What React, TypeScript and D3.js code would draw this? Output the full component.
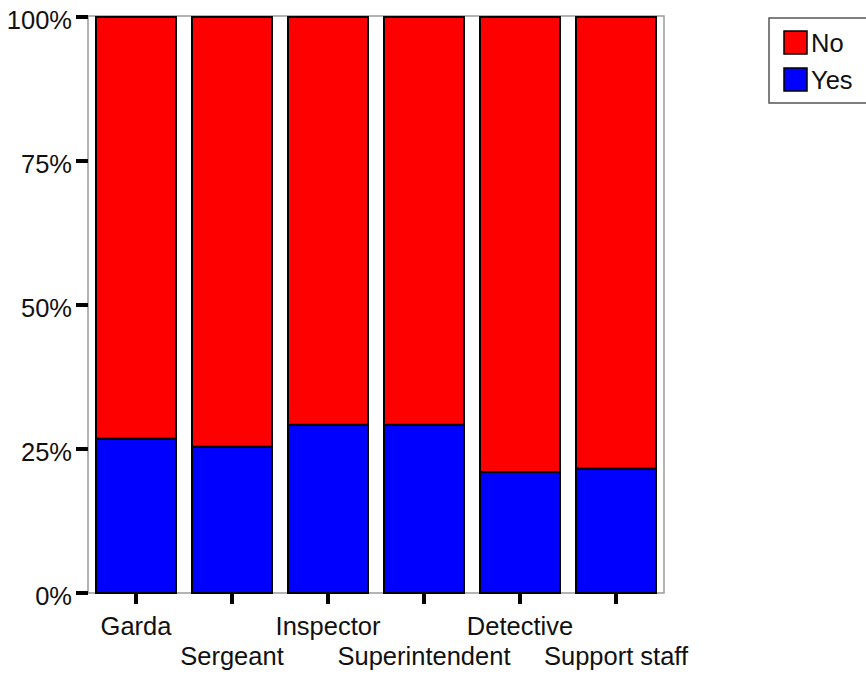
import React, { useEffect, useRef } from 'react';
import * as d3 from 'd3';

const categories = ['Garda', 'Sergeant', 'Inspector', 'Superintendent', 'Detective', 'Support staff'];
const yesValues = [26.8, 25.4, 29.2, 29.2, 21.0, 21.6];
const noValues = [73.2, 74.6, 70.8, 70.8, 79.0, 78.4];
const seriesNames = ['No', 'Yes'];
const seriesColors = ['#ff0000', '#0000ff'];
const yTicks = [0, 25, 50, 75, 100];

const App: React.FC = () => {
  const svgRef = useRef<SVGSVGElement>(null);

  useEffect(() => {
    if (!svgRef.current) return;
    const svg = d3.select(svgRef.current);
    svg.selectAll('*').remove();

    const left = 88, right = 664, top = 17, bottom = 593;
    const font = 'Liberation Sans, Arial, sans-serif';
    const fs = '25.5px';

    const x = d3.scaleBand<string>()
      .domain(categories)
      .range([left, right])
      .paddingInner(1 / 6)
      .paddingOuter(1 / 12);

    const y = d3.scaleLinear().domain([0, 100]).range([bottom, top]);

    // plot frame
    svg.append('rect')
      .attr('x', left).attr('y', top - 1)
      .attr('width', right - left).attr('height', bottom - top + 1)
      .attr('fill', 'none').attr('stroke', '#9a9a9a').attr('stroke-width', 1.5);

    const rows = categories.map((c, i) => ({ c, yes: yesValues[i], no: noValues[i] }));

    // Yes (bottom)
    svg.append('g').selectAll('rect').data(rows).join('rect')
      .attr('x', d => x(d.c)!)
      .attr('y', d => y(d.yes))
      .attr('width', x.bandwidth())
      .attr('height', d => y(0) - y(d.yes))
      .attr('fill', seriesColors[1])
      .attr('stroke', '#000').attr('stroke-width', 2);

    // No (top)
    svg.append('g').selectAll('rect').data(rows).join('rect')
      .attr('x', d => x(d.c)!)
      .attr('y', d => y(d.yes + d.no))
      .attr('width', x.bandwidth())
      .attr('height', d => y(d.yes) - y(d.yes + d.no))
      .attr('fill', seriesColors[0])
      .attr('stroke', '#000').attr('stroke-width', 2);

    // y axis ticks
    const ya = svg.append('g');
    yTicks.forEach(t => {
      ya.append('rect')
        .attr('x', 76).attr('y', y(t) - 2)
        .attr('width', 12).attr('height', 4)
        .attr('fill', '#000');
      ya.append('text')
        .attr('x', 72).attr('y', y(t) + 12)
        .attr('text-anchor', 'end')
        .style('font-family', font).style('font-size', fs)
        .attr('fill', '#111')
        .text(`${t}%`);
    });

    // x axis ticks + staggered labels
    const xa = svg.append('g');
    categories.forEach((c, i) => {
      const cx = x(c)! + x.bandwidth() / 2;
      xa.append('rect')
        .attr('x', cx - 2).attr('y', bottom)
        .attr('width', 4).attr('height', 11)
        .attr('fill', '#000');
      xa.append('text')
        .attr('x', cx).attr('y', i % 2 === 0 ? 635 : 665)
        .attr('text-anchor', 'middle')
        .style('font-family', font).style('font-size', fs)
        .attr('fill', '#111')
        .text(c);
    });

    // legend
    const lg = svg.append('g');
    lg.append('rect')
      .attr('x', 769).attr('y', 18)
      .attr('width', 120).attr('height', 85)
      .attr('fill', '#fff').attr('stroke', '#555').attr('stroke-width', 1.5);
    seriesNames.forEach((s, i) => {
      const yy = 31 + i * 37;
      lg.append('rect')
        .attr('x', 784).attr('y', yy)
        .attr('width', 23).attr('height', 23)
        .attr('fill', seriesColors[i])
        .attr('stroke', '#000').attr('stroke-width', 1.5);
      lg.append('text')
        .attr('x', 811).attr('y', yy + 21)
        .style('font-family', font).style('font-size', fs)
        .attr('fill', '#111')
        .text(s);
    });
  }, []);

  return (
    <svg ref={svgRef} width={866} height={675}
      style={{ position: 'absolute', left: 0, top: 0, background: '#fff' }} />
  );
};

export default App;
